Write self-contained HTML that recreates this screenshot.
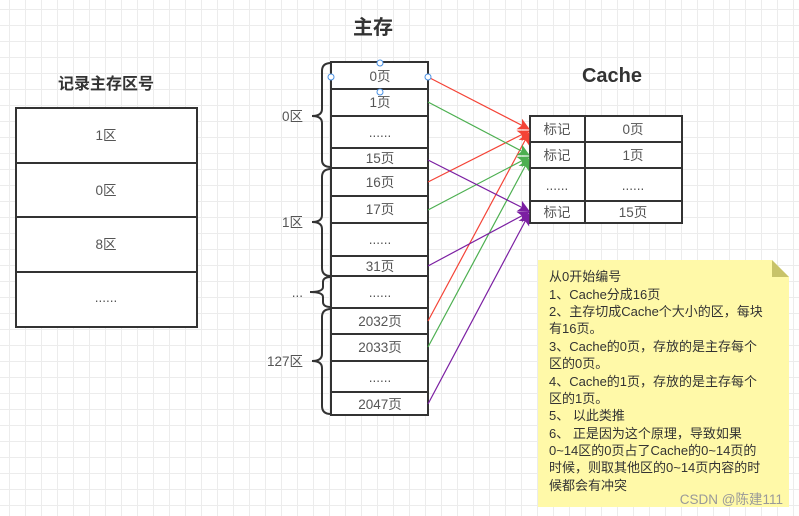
<!DOCTYPE html>
<html><head><meta charset="utf-8"><style>
html,body{margin:0;padding:0;}
body{width:799px;height:516px;overflow:hidden;background:#fff;
background-image:linear-gradient(#ececec 1px,transparent 1px),linear-gradient(90deg,#ececec 1px,transparent 1px);
background-size:16px 16px;background-position:9px 9px;}
svg{position:absolute;left:0;top:0;font-family:"Liberation Sans","Noto Sans CJK SC",sans-serif;}
</style></head><body>
<svg width="799" height="516" viewBox="0 0 799 516" xmlns="http://www.w3.org/2000/svg">
<defs>
<marker id="ar" markerWidth="12" markerHeight="12" refX="11" refY="6" orient="auto" markerUnits="userSpaceOnUse"><path d="M0,0 L12,6 L0,12 L3,6 Z" fill="#f44336"/></marker>
<marker id="ag" markerWidth="12" markerHeight="12" refX="11" refY="6" orient="auto" markerUnits="userSpaceOnUse"><path d="M0,0 L12,6 L0,12 L3,6 Z" fill="#4caf50"/></marker>
<marker id="ap" markerWidth="12" markerHeight="12" refX="11" refY="6" orient="auto" markerUnits="userSpaceOnUse"><path d="M0,0 L12,6 L0,12 L3,6 Z" fill="#7b1fa2"/></marker>
</defs>
<g font-weight="bold" fill="#333">
<text x="106" y="89" font-size="16" text-anchor="middle">记录主存区号</text>
<text x="373" y="34" font-size="20" text-anchor="middle">主存</text>
<text x="612" y="82" font-size="20" text-anchor="middle">Cache</text>
</g>
<g fill="#fff" stroke="#333" stroke-width="2">
<rect x="16" y="108" width="181" height="219"/>
<rect x="331" y="62" width="97" height="353"/>
<rect x="530" y="116" width="152" height="107"/>
</g>
<g stroke="#333" stroke-width="2">
<line x1="16" y1="163" x2="197" y2="163"/><line x1="16" y1="217" x2="197" y2="217"/><line x1="16" y1="272" x2="197" y2="272"/>
<line x1="331" y1="89" x2="428" y2="89"/><line x1="331" y1="116" x2="428" y2="116"/><line x1="331" y1="148" x2="428" y2="148"/>
<line x1="331" y1="168" x2="428" y2="168"/><line x1="331" y1="196" x2="428" y2="196"/><line x1="331" y1="223" x2="428" y2="223"/>
<line x1="331" y1="256" x2="428" y2="256"/><line x1="331" y1="276" x2="428" y2="276"/><line x1="331" y1="308" x2="428" y2="308"/>
<line x1="331" y1="334" x2="428" y2="334"/><line x1="331" y1="361" x2="428" y2="361"/><line x1="331" y1="392" x2="428" y2="392"/>
<line x1="530" y1="142" x2="682" y2="142"/><line x1="530" y1="168" x2="682" y2="168"/><line x1="530" y1="201" x2="682" y2="201"/>
<line x1="585" y1="116" x2="585" y2="223"/>
</g>
<g fill="none" stroke="#333" stroke-width="2">
<path d="M331 63 Q322 63 322 71 L322 109 Q322 116 312 116 Q322 116 322 123 L322 160 Q322 167 331 167"/>
<path d="M331 169 Q322 169 322 177 L322 215 Q322 222 312 222 Q322 222 322 229 L322 268 Q322 276 331 276"/>
<path d="M331 277 Q323 277 323 282 L323 287 Q323 292 310 292 Q323 292 323 297 L323 302 Q323 307 331 307"/>
<path d="M331 309 Q322 309 322 317 L322 354 Q322 361 312 361 Q322 361 322 368 L322 406 Q322 414 331 414"/>
</g>
<g font-size="13.5" fill="#555" text-anchor="middle">
<text x="106" y="140">1区</text><text x="106" y="195">0区</text><text x="106" y="249">8区</text><text x="106" y="302">......</text>
<text x="380" y="81">0页</text><text x="380" y="107">1页</text><text x="380" y="137">......</text><text x="380" y="163">15页</text>
<text x="380" y="187">16页</text><text x="380" y="214">17页</text><text x="380" y="244">......</text><text x="380" y="271">31页</text>
<text x="380" y="297">......</text><text x="380" y="326">2032页</text><text x="380" y="352">2033页</text><text x="380" y="382">......</text><text x="380" y="409">2047页</text>
<text x="557" y="134">标记</text><text x="557" y="160">标记</text><text x="557" y="190">......</text><text x="557" y="217">标记</text>
<text x="633" y="134">0页</text><text x="633" y="160">1页</text><text x="633" y="190">......</text><text x="633" y="217">15页</text>
</g>
<g font-size="13.5" fill="#555" text-anchor="end">
<text x="303" y="121">0区</text><text x="303" y="227">1区</text><text x="303" y="297">...</text><text x="303" y="366">127区</text>
</g>
<g stroke-width="1.2" fill="none">
<line x1="428" y1="77" x2="529" y2="129" stroke="#f44336" marker-end="url(#ar)"/>
<line x1="428" y1="182" x2="529" y2="131" stroke="#f44336" marker-end="url(#ar)"/>
<line x1="428" y1="321" x2="529" y2="133" stroke="#f44336" marker-end="url(#ar)"/>
<line x1="428" y1="102" x2="529" y2="155" stroke="#4caf50" marker-end="url(#ag)"/>
<line x1="428" y1="210" x2="529" y2="157" stroke="#4caf50" marker-end="url(#ag)"/>
<line x1="428" y1="347" x2="529" y2="159" stroke="#4caf50" marker-end="url(#ag)"/>
<line x1="428" y1="160" x2="529" y2="211" stroke="#7b1fa2" marker-end="url(#ap)"/>
<line x1="428" y1="266" x2="529" y2="212" stroke="#7b1fa2" marker-end="url(#ap)"/>
<line x1="428" y1="404" x2="529" y2="214" stroke="#7b1fa2" marker-end="url(#ap)"/>
</g>
<g stroke="#4a90e2"><circle cx="380" cy="63" r="3" fill="#fff"/><circle cx="331" cy="77" r="3" fill="#fff"/><circle cx="428" cy="77" r="3" fill="#fff"/><circle cx="380" cy="92" r="3" fill="#fff"/></g>
<path d="M538 260 L772 260 L789 277 L789 507 L538 507 Z" fill="#fff9a8"/>
<path d="M772 260 L789 277 L772 277 Z" fill="#c8c36a"/>
<g font-size="13" fill="#333">
<text x="549" y="281">从0开始编号</text>
<text x="549" y="299">1、Cache分成16页</text>
<text x="549" y="316">2、主存切成Cache个大小的区，每块</text>
<text x="549" y="333">有16页。</text>
<text x="549" y="351">3、Cache的0页，存放的是主存每个</text>
<text x="549" y="368">区的0页。</text>
<text x="549" y="386">4、Cache的1页，存放的是主存每个</text>
<text x="549" y="403">区的1页。</text>
<text x="549" y="420">5、 以此类推</text>
<text x="549" y="438">6、 正是因为这个原理，导致如果</text>
<text x="549" y="455">0~14区的0页占了Cache的0~14页的</text>
<text x="549" y="472">时候，则取其他区的0~14页内容的时</text>
<text x="549" y="490">候都会有冲突</text>
</g>
<text x="783" y="504" font-size="13.5" fill="#999" text-anchor="end">CSDN @陈建111</text>
</svg>
</body></html>
